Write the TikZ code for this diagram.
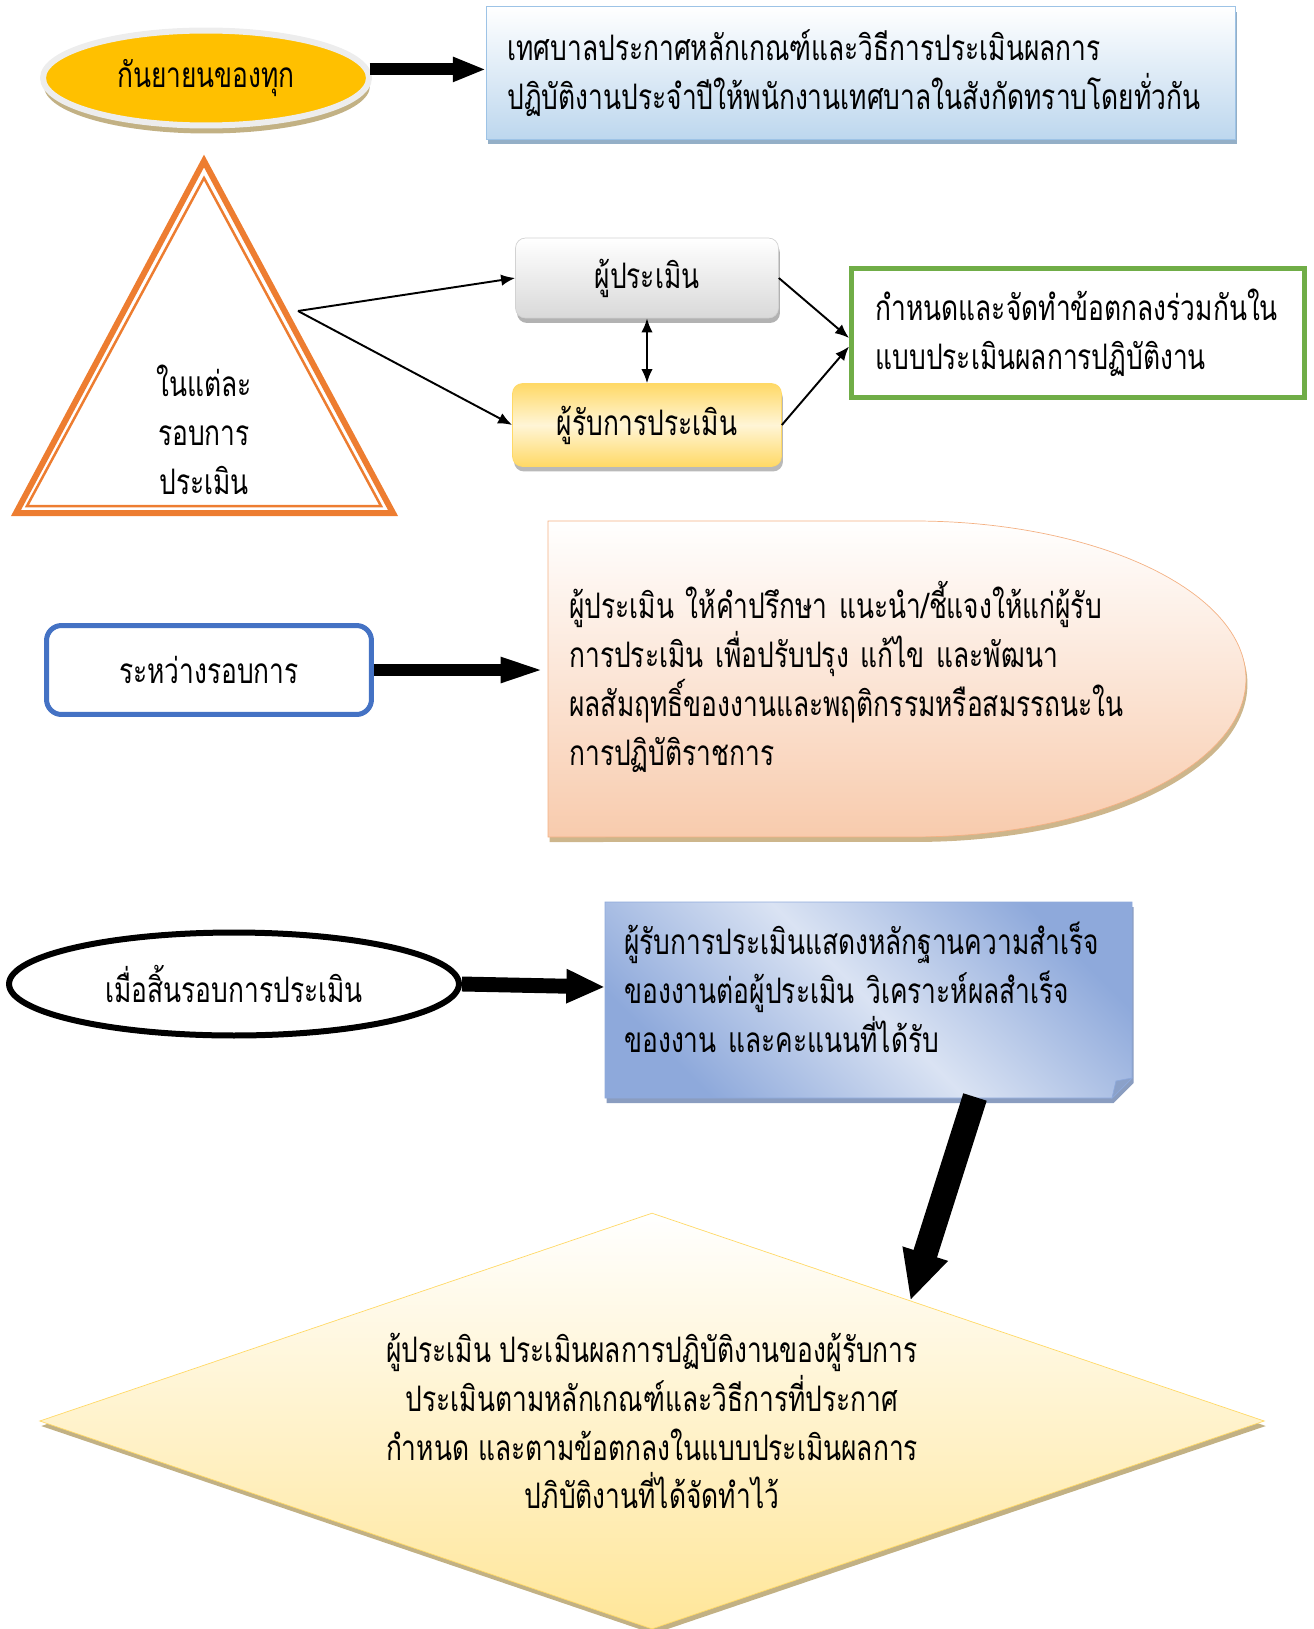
\documentclass[tikz,border=0pt]{standalone}
\usepackage{fontspec}
\newfontfamily\thaifont[Script=Thai,FakeStretch=0.75]{Loma}
\usepackage{tikz}
\usetikzlibrary{shapes.geometric,shadows,arrows.meta}
\definecolor{gold}{HTML}{FFC000}
\definecolor{rimgray}{HTML}{EDEDED}
\definecolor{shadetan}{HTML}{C2B184}
\definecolor{skyedge}{HTML}{9DC3E6}
\definecolor{skyfill}{HTML}{BDD7EE}
\definecolor{triorange}{HTML}{ED7D31}
\definecolor{leafgreen}{HTML}{70AD47}
\definecolor{royal}{HTML}{4472C4}
\definecolor{peach}{HTML}{F8CBAD}
\definecolor{peachedge}{HTML}{F4B183}
\definecolor{noteblue}{HTML}{8EA9DB}
\definecolor{notelight}{HTML}{DAE3F3}
\definecolor{cream}{HTML}{FFE699}
\definecolor{creamedge}{HTML}{FFD966}
\definecolor{softgold}{HTML}{FFD966}
\tikzset{>={Latex[length=8pt,width=6.5pt]},
    thai/.style={font=\thaifont\fontsize{20pt}{27.8pt}\selectfont},
    shade/.style={drop shadow={shadow xshift=0.03cm,shadow yshift=-0.1cm,fill=#1,opacity=1}},
    fat/.style n args={3}{line width=#1,-{Triangle[length=#2,width=#3]}},
    box/.style={thai,rectangle,inner sep=0pt},
    link/.style={line width=1.1pt}
}

\begin{document}
        \begin{tikzpicture}[x=0.02cm,y=-0.02cm]
            \useasboundingbox (0,0) rectangle (1314,1629);
            \node[thai,ellipse,draw=rimgray,line width=0.12cm,fill=gold,minimum width=6.52cm,minimum height=1.9cm,
                drop shadow={shadow xshift=0.02cm,shadow yshift=-0.16cm,fill=shadetan,opacity=1}] (month) at (206,78) {กันยายนของทุก};
            \node[box,draw=skyedge,top color=white,bottom color=skyfill,minimum width=14.98cm,minimum height=2.66cm,
                text width=14.14cm,align=left,inner xsep=0.42cm,shade=skyedge!70!gray] (announce) at (861,73)
                {เทศบาลประกาศหลักเกณฑ์และวิธีการประเมินผลการ\\ปฏิบัติงานประจำปีให้พนักงานเทศบาลในสังกัดทราบโดยทั่วกัน};
            \draw[fat={6.8pt}{19pt}{13pt}] (month.3) -- (announce.west |- month.3);

            \draw[triorange,line width=0.12cm,line join=miter] (204,161) -- (393,513) -- (16,513) -- cycle;
            \draw[triorange,line width=0.05cm] (204,178) -- (381,506) -- (27,506) -- cycle;
            \coordinate (tri) at (298,311);
            \node[thai,align=center] (round) at (204,430) {ในแต่ละ\\รอบการ\\ประเมิน};

            \node[box,rounded corners=0.2cm,draw=gray!35,top color=white,bottom color=gray!30,
                minimum width=5.26cm,minimum height=1.6cm,shade=gray!60] (rater) at (647,278) {ผู้ประเมิน};
            \node[box,rounded corners=0.2cm,draw=softgold,top color=softgold,bottom color=softgold,middle color=cream!40,
                minimum width=5.38cm,minimum height=1.66cm,shade=gray!55] (ratee) at (647,425) {ผู้รับการประเมิน};
            \node[box,draw=leafgreen,line width=0.1cm,fill=white,minimum width=9.06cm,minimum height=2.6cm,
                text width=8.1cm,align=left,inner xsep=0.48cm] (agree) at (1078,333)
                {กำหนดและจัดทำข้อตกลงร่วมกันใน\\แบบประเมินผลการปฏิบัติงาน};
            \draw[link,->] (tri) -- (rater.west);
            \draw[link,->] (tri) -- (ratee.west);
            \draw[link,<->] (rater) -- (ratee);
            \draw[link,->] (rater.east) -- ([yshift=-0.1cm]agree.west);
            \draw[link,->] (ratee.east) -- ([yshift=-0.27cm]agree.west);

            \node[box,rounded corners=0.3cm,draw=royal,line width=0.1cm,fill=white,
                minimum width=6.5cm,minimum height=1.78cm] (during) at (209,670) {ระหว่างรอบการ};
            \path[draw=peachedge,top color=white,bottom color=peach,shade=shadetan!80!peach]
                (548,521) -- (914,521) arc[start angle=90,end angle=-90,x radius=6.64cm,y radius=3.16cm] -- (548,837) -- cycle;
            \node[box,anchor=west,text width=11.6cm,align=left,inner xsep=0.42cm] (advice) at (548,677)
                {ผู้ประเมิน ให้คำปรึกษา แนะนำ/ชี้แจงให้แก่ผู้รับ\\การประเมิน เพื่อปรับปรุง แก้ไข และพัฒนา\\
                ผลสัมฤทธิ์ของงานและพฤติกรรมหรือสมรรถนะใน\\การปฏิบัติราชการ};
            \draw[fat={6.8pt}{27pt}{12.5pt}] (during.east) -- (advice.west |- during.east);

            \node[thai,ellipse,draw=black,line width=0.12cm,fill=white,minimum width=9cm,minimum height=2.06cm] (endround) at (234,984)
                {เมื่อสิ้นรอบการประเมิน};
            \path[draw=noteblue,top color=noteblue,bottom color=noteblue,middle color=notelight,shading angle=-45,
                shade=noteblue!70!gray] (605,902) -- (1132,902) -- (1132,1078) -- (1112,1098) -- (605,1098) -- cycle;
            \fill[noteblue!80!gray,draw=noteblue] (1112,1098) -- (1116,1081) -- (1132,1078) -- cycle;
            \node[box,anchor=west,text width=9.8cm,align=left,inner xsep=0.38cm] (evidence) at (605,987)
                {ผู้รับการประเมินแสดงหลักฐานความสำเร็จ\\ของงานต่อผู้ประเมิน วิเคราะห์ผลสำเร็จ\\ของงาน และคะแนนที่ได้รับ};
            \draw[fat={8.5pt}{22pt}{18pt}] (endround.east) -- (evidence.west);
            \coordinate (notebottom) at (975,1097);

            \node[thai,diamond,aspect=2.94,draw=creamedge,top color=white,bottom color=cream,minimum width=24.5cm,minimum height=8.32cm,
                align=center,inner sep=0pt,shade=shadetan] (judge) at (652,1421)
                {ผู้ประเมิน ประเมินผลการปฏิบัติงานของผู้รับการ\\ประเมินตามหลักเกณฑ์และวิธีการที่ประกาศ\\
                กำหนด และตามข้อตกลงในแบบประเมินผลการ\\ปภิบัติงานที่ได้จัดทำไว้};
            \draw[fat={14pt}{28pt}{25pt}] (notebottom) -- (judge.25);
        \end{tikzpicture}
\end{document}
